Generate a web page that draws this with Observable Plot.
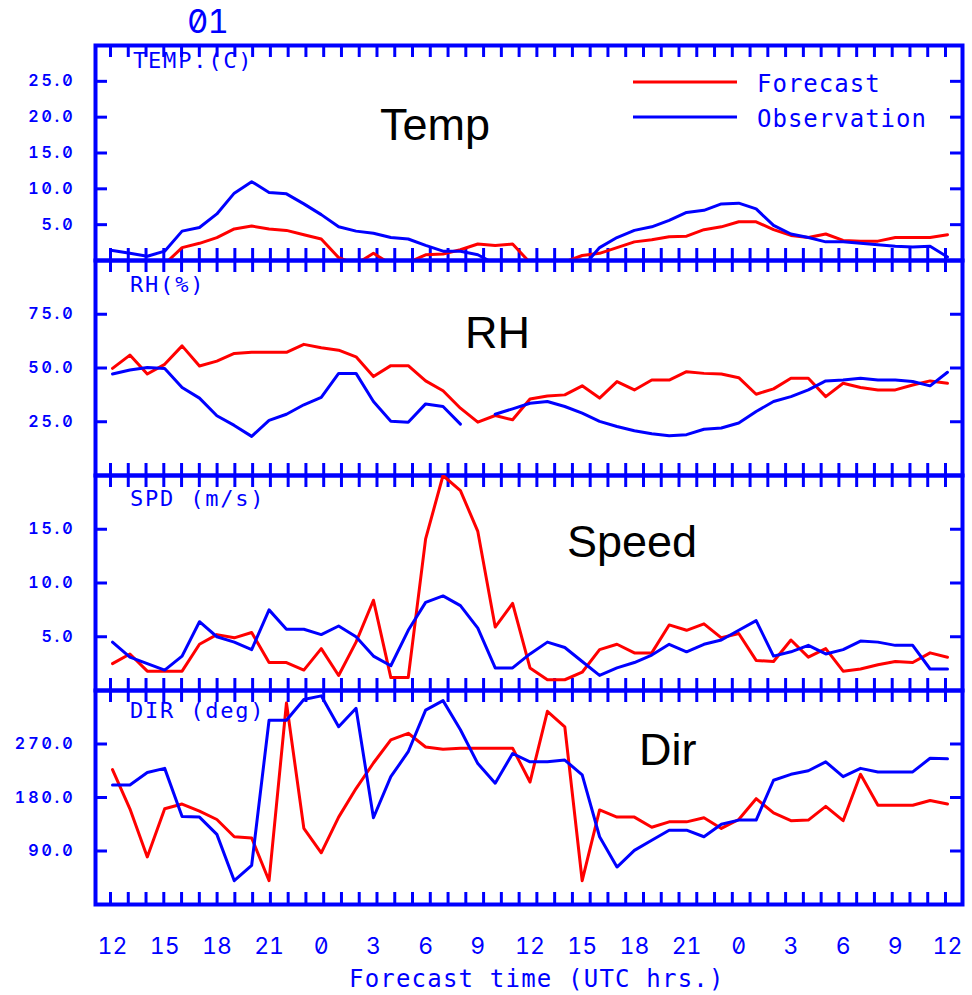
<!DOCTYPE html>
<html><head><meta charset="utf-8">
<script src="https://cdn.jsdelivr.net/npm/d3@7"></script>
<script src="https://cdn.jsdelivr.net/npm/@observablehq/plot@0.6"></script>
<style>
html,body{margin:0;padding:0;background:#fff;}
#root{position:relative;width:972px;height:995px;overflow:hidden;background:#fff;}
#root text{font-variant-numeric:slashed-zero tabular-nums;font-feature-settings:"zero" 1,"tnum" 1;}
g[aria-label="y-axis tick label"] text{letter-spacing:3px;}
.mono{font-family:"DejaVu Sans Mono",monospace;fill:#0000ff;}
.big{font-family:"Liberation Sans",Arial,sans-serif;fill:#000;font-size:45px;}
</style></head><body><div id="root"></div>
<script>
// ---- data (hourly, forecast hour 0..48 starting 12 UTC) ----
const xTickLabels = ["12","15","18","21","0","3","6","9","12","15","18","21","0","3","6","9","12"];
const xTickHours = [0,3,6,9,12,15,18,21,24,27,30,33,36,39,42,45,48];

const tempTicks = [5,10,15,20,25];
const rhTicks = [25,50,75];
const spdTicks = [5,10,15];
const dirTicks = [90,180,270];

const tempFc = [-0.5,-0.5,-0.5,-0.5,1.8,2.4,3.2,4.4,4.8,4.4,4.2,3.6,3.0,0.4,-0.5,1.0,-0.5,-0.3,0.8,0.9,1.5,2.3,2.1,2.3,-0.3,-1.0,-0.2,0.7,1.0,1.8,2.6,2.9,3.3,3.4,4.3,4.7,5.4,5.4,4.3,3.5,3.2,3.7,2.8,2.7,2.7,3.2,3.2,3.2,3.6];
const tempOb = [1.4,1.0,0.6,1.3,4.1,4.6,6.5,9.4,11.0,9.5,9.3,7.9,6.4,4.7,4.1,3.8,3.2,3.0,2.1,1.3,1.3,0.8,-0.5,-1,-1,-1,-1,-1,1.8,3.2,4.2,4.7,5.6,6.7,7.0,7.9,8.0,7.2,4.9,3.7,3.2,2.6,2.6,2.4,2.2,2.0,1.9,2.0,0.5];

const rhFc = [49.8,56.0,47.2,51.7,60.3,50.9,53.2,56.8,57.3,57.3,57.3,61.0,59.4,58.3,55.2,46.0,51.1,51.1,44.0,39.4,31.3,24.8,27.9,25.9,35.6,37.0,37.5,41.7,36.0,43.7,39.8,44.4,44.4,48.3,47.5,47.2,45.5,37.8,40.3,45.2,45.2,36.7,42.9,40.9,39.8,39.8,42.1,44.0,42.9];
const rhOb = [47.2,49.1,50.2,49.8,40.9,36.0,27.8,23.3,18.2,25.6,28.5,32.9,36.3,47.5,47.5,34.4,25.2,24.8,33.3,32.1,23.9,NaN,28.5,31.0,33.6,34.4,32.1,29.0,25.2,22.8,20.8,19.4,18.5,19.0,21.5,22.1,24.4,29.8,34.4,36.7,39.8,44.0,44.4,45.2,44.4,44.4,43.7,41.7,48.0];

const spdFc = [2.5,3.4,1.8,1.8,1.8,4.3,5.2,4.9,5.4,2.6,2.6,1.9,3.9,1.4,4.5,8.4,1.2,1.2,14.1,20.0,18.6,14.8,5.9,8.1,2.1,1.0,1.0,1.7,3.8,4.3,3.5,3.5,6.1,5.6,6.2,4.9,5.3,2.8,2.7,4.7,3.1,3.9,1.8,2.0,2.4,2.7,2.6,3.5,3.1];
const spdOb = [4.5,3.1,2.5,1.9,3.2,6.4,5.0,4.5,3.8,7.5,5.7,5.7,5.2,6.0,5.0,3.2,2.3,5.6,8.2,8.8,7.9,5.8,2.1,2.1,3.4,4.5,4.0,2.7,1.4,2.1,2.6,3.3,4.3,3.6,4.3,4.7,5.6,6.5,3.2,3.6,4.2,3.4,3.8,4.6,4.5,4.2,4.2,2.0,2.0];

const dirFc = [227,161,80,161,169,157,143,114,112,40,339,128,87,147,195,238,277,288,265,261,263,263,263,263,206,325,299,40,159,147,147,130,139,139,146,128,143,178,154,141,142,165,141,219,167,167,167,175,169];
const dirOb = [201,201,222,229,148,147,118,40,66,310,310,345,351,299,330,146,215,257,327,343,294,237,204,254,240,240,243,218,114,63,91,108,125,125,114,135,142,142,209,219,225,240,215,229,223,223,223,246,245];

const panelNames = ["TEMP.(C)","RH(%)","SPD (m/s)","DIR (deg)"];
const bigNames = ["Temp","RH","Speed","Dir"];
const seriesNames = ["Forecast","Observation"];
const runLabel = "01";
const xTitle = "Forecast time (UTC hrs.)";

// ---- layout ----
const BLUE = "#0000ff", RED = "#ff0000";
const root = document.getElementById("root");
const over = d3.select(root).append("svg")
  .attr("width", 972).attr("height", 995)
  .style("position","absolute").style("left","0").style("top","0");

function txt(s, x, y, cls, attrs = {}) {
  const t = over.append("text").attr("x", x).attr("y", y).attr("class", cls).text(s);
  for (const k in attrs) t.style(k, attrs[k]);
  return t;
}
txt(runLabel, 187, 33, "", {"font-family":"Inter","font-size":"33px","fill":BLUE,"letter-spacing":"-1px"});
const labelPos = [[133,68],[130,292],[130,506],[130,718]];
panelNames.forEach((n,i)=>txt(n, labelPos[i][0], labelPos[i][1], "mono", {"font-size":"22px","letter-spacing":"1.8px"}));
const bigPos = [[380,140],[465,348],[567,557],[639,765]];
bigNames.forEach((n,i)=>txt(n, bigPos[i][0], bigPos[i][1], "big"));
// legend
over.append("line").attr("x1",633).attr("x2",737).attr("y1",82).attr("y2",82).attr("stroke",RED).attr("stroke-width",3);
over.append("line").attr("x1",633).attr("x2",737).attr("y1",117).attr("y2",117).attr("stroke",BLUE).attr("stroke-width",3);
txt(seriesNames[0], 757, 92, "mono", {"font-size":"24px","letter-spacing":"1px"});
txt(seriesNames[1], 757, 127, "mono", {"font-size":"24px","letter-spacing":"1px"});
txt(xTitle, 349, 987, "mono", {"font-size":"24px","letter-spacing":"1.2px"});

const panels = [
  {top:45,  bottom:260, domain:[0,30],  ticks:tempTicks, fc:tempFc, ob:tempOb},
  {top:260, bottom:475, domain:[0,100], ticks:rhTicks,   fc:rhFc,   ob:rhOb},
  {top:475, bottom:690, domain:[0,20],  ticks:spdTicks,  fc:spdFc,  ob:spdOb},
  {top:690, bottom:904, domain:[0,360], ticks:dirTicks,  fc:dirFc,  ob:dirOb}
];
const PAD = 20;
const tickIdx = d3.range(48);
const hours = d3.range(49);
const innerW = 972 - 95 - 10;

panels.forEach((p, k) => {
  const H = p.bottom - p.top;
  const last = k === panels.length - 1;
  const style = `position:absolute;left:0;top:${p.top - PAD}px;background:transparent;overflow:visible;color:${BLUE};`;
  const base = {width:972, marginLeft:95, marginRight:10, marginTop:PAD, style};
  const framePlot = Plot.plot({
    ...base, height: H + 2*PAD, marginBottom: PAD,
    x: {domain:[0,47], range:[110,945], axis:null},
    y: {domain:p.domain},
    marks: [
      Plot.axisY(p.ticks, {anchor:"left", tickSize:0, tickPadding:20, tickFormat:d=>d.toFixed(1), label:null,
        fontFamily:"Inter", fontSize:16, fontWeight:600, fill:BLUE, fontVariant:"slashed-zero tabular-nums"}),
      Plot.tickY(p.ticks, {y:d=>d, stroke:BLUE, strokeWidth:3, insetRight: innerW - 12}),
      Plot.tickY(p.ticks, {y:d=>d, stroke:BLUE, strokeWidth:3, insetLeft: innerW - 12}),
      Plot.tickX(tickIdx, {x:d=>d, stroke:BLUE, strokeWidth:3, insetBottom: H - 12}),
      Plot.tickX(tickIdx, {x:d=>d, stroke:BLUE, strokeWidth:3, insetTop: H - 12}),
      Plot.frame({stroke:BLUE, strokeWidth:4})
    ]
  });
  const marks = [
    Plot.line(hours, {x:h=>h, y:h=>p.fc[h], stroke:RED, strokeWidth:3, clip:true}),
    Plot.line(hours, {x:h=>h, y:h=>p.ob[h], stroke:BLUE, strokeWidth:3, clip:true})
  ];
  if (last) {
    marks.push(Plot.axisX(xTickHours, {anchor:"bottom", tickSize:0, tickPadding:33, label:null,
      tickFormat: d => xTickLabels[xTickHours.indexOf(d)],
      fontFamily:"Inter", fontSize:23, fill:BLUE, fontVariant:"slashed-zero tabular-nums"}));
  }
  const xOpts = {domain:[0,48], range:[112,947]};
  if (!last) xOpts.axis = null;
  const dataPlot = Plot.plot({
    ...base, height: H + PAD + (last ? 95 : PAD), marginBottom: last ? 95 : PAD,
    x: xOpts,
    y: {domain:p.domain, axis:null},
    marks
  });
  root.append(framePlot, dataPlot);
});
</script>
</body></html>
